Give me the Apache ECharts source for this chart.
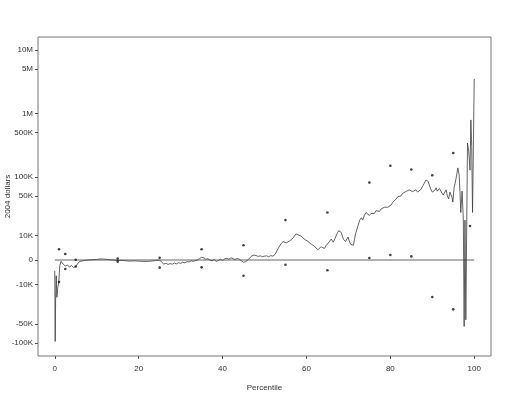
<!DOCTYPE html>
<html>
<head>
<meta charset="utf-8">
<script src="https://cdn.jsdelivr.net/npm/echarts@6/dist/echarts.min.js"></script>
<style>html,body{margin:0;padding:0;background:#fff}#c{width:509px;height:402px}</style>
</head>
<body>
<div id="c"></div>
<script>
// Percentile positions of the traced line
const linePct = [0.0,0.1,0.2,0.35,0.5,0.7,0.95,1.2,1.5,2.0,2.5,3.0,3.5,4.0,4.5,5.0,5.5,6.0,7.0,8.0,9.0,10.0,11.0,12.0,13.0,14.0,15.0,16.0,17.0,18.0,19.0,20.0,21.0,22.0,23.0,24.0,25.0,25.5,26.0,26.5,27.0,27.5,28.0,28.5,29.0,29.5,30.0,30.5,31.0,31.5,32.0,32.5,33.0,33.5,34.0,34.5,35.0,35.5,36.0,36.5,37.0,37.5,38.0,38.5,39.0,39.5,40.0,40.5,41.0,41.5,42.0,42.5,43.0,43.5,44.0,44.5,45.0,45.5,46.0,46.5,47.0,47.5,48.0,48.5,49.0,49.5,50.0,50.5,51.0,51.5,52.0,52.5,53.0,53.5,54.0,54.4,54.8,55.2,55.6,56.0,56.4,56.8,57.1,57.5,58.0,58.3,58.7,59.1,59.5,59.9,60.3,60.7,61.1,61.5,61.9,62.3,62.7,63.1,63.5,63.9,64.3,64.7,65.1,65.5,65.9,66.4,66.8,67.1,67.4,67.7,68.0,68.3,68.8,69.3,69.9,70.3,70.6,71.2,71.7,72.2,72.7,73.1,73.4,73.8,74.2,74.6,75.0,75.4,75.8,76.2,76.6,77.0,77.4,77.8,78.2,78.6,79.0,79.4,79.8,80.2,80.6,81.0,81.4,81.8,82.1,82.5,82.9,83.3,83.7,84.1,84.5,84.9,85.3,85.7,86.1,86.5,86.9,87.3,87.7,88.1,88.5,89.0,89.3,89.7,90.0,90.3,90.6,90.9,91.2,91.4,91.7,92.0,92.3,92.6,93.0,93.3,93.6,93.9,94.2,94.5,94.7,94.9,95.2,95.6,96.1,96.4,96.6,96.8,97.1,97.4,97.6,97.8,98.0,98.4,98.7,99.0,99.2,99.4,99.6,100.0];
// Line values, thousands of 2004 dollars
const lineValK = [-4,-95,-20,-6,-18,-12,-9,-2,-0.5,-1.5,-2.2,-1.8,-2.6,-2.0,-2.8,-2.3,-1.2,-0.5,-0.2,0,0.1,0.2,0.4,0.3,0.1,0,-0.2,-0.1,-0.3,-0.4,-0.3,-0.4,-0.5,-0.5,-0.4,-0.2,0,-0.8,-1.5,-1.2,-1.6,-1.3,-1.5,-1.1,-1.4,-1.0,-1.2,-0.8,-1.0,-0.6,-0.7,-0.3,-0.5,-0.2,0,0.5,1.0,0.8,0.3,0.5,0,-0.3,0.2,-0.5,-0.2,0.3,-0.2,0.4,0.6,0.3,0.8,0.5,0.2,0.6,0.3,-0.3,-0.8,-0.6,0,0.8,1.5,1.8,1.6,1.3,1.5,1.2,1.4,1.5,1.2,1.6,1.4,2.0,3.5,5.0,6.3,7.2,7.6,6.6,6.9,7.5,7.9,8.8,9.3,10.9,10.4,10.3,9.8,9.0,8.3,7.6,7.3,6.9,6.1,5.6,5.2,4.6,3.8,3.1,5.0,4.5,4.3,5.5,5.9,7.2,8.3,6.9,8.5,9.3,11.5,12.7,12.2,11.7,8.3,7.2,9.3,7.0,5.9,5.6,10.9,15,20,22,20,24,27,25,24,26,27,26,29,29,28,31,31,33,35,33,31,36,40,43,45,49,52,50,55,57,59,58,63,60,59,62,63,58,57,64,72,80,90,86,75,63,58,55,62,68,60,59,66,63,56,52,58,63,50,45,58,55,48,40,68,90,140,110,60,27,60,21,-55,20,-43,345,250,129,795,302,27,3500];
// Estimate points (bounds) at selected percentiles
const dotPct  = [1,1,2.5,2.5,5,5,15,15,25,25,35,35,45,45,55,55,65,65,75,75,80,80,85,85,90,90,95,95,99];
const dotValK = [4,-8.8,2.2,-3.3,0.1,-2.4,0.5,-0.6,0.8,-2.8,4,-2.7,5.6,-6,20,-1.7,27,-3.8,82,0.7,151,1.8,132,1.3,107,-17.8,240,-29,15.7];
// Axis ticks
const xTicks = [0,20,40,60,80,100];
const yTickVals = [-100000,-50000,-10000,0,10000,50000,100000,500000,1000000,5000000,10000000];
const yTickLabels = ['-100K','-50K','-10K','0','10K','50K','100K','500K','1M','5M','10M'];

const T = v => Math.asinh(v / 10000);
const yTickPos = yTickVals.map(T);

const lineData = linePct.map((p, i) => [p, T(lineValK[i] * 1000)]);
const dotData = dotPct.map((p, i) => [p, T(dotValK[i] * 1000)]);
const zeroData = [[0, 0], [100, 0]];

const font = 'Liberation Sans, Arial, sans-serif';
const chart = echarts.init(document.getElementById('c'), null, {renderer: 'canvas'});
chart.setOption({
  animation: false,
  backgroundColor: '#fff',
  grid: {left: 38, right: 18, top: 37, bottom: 46, show: true, borderColor: '#777', borderWidth: 1,
         backgroundColor: 'transparent', containLabel: false, outerBoundsMode: 'none'},
  xAxis: {
    type: 'value', min: -4, max: 104,
    name: 'Percentile', nameLocation: 'middle', nameGap: 28, nameMoveOverlap: false,
    nameTextStyle: {fontFamily: font, fontSize: 8, color: '#333'},
    axisLine: {show: false, onZero: false},
    splitLine: {show: false},
    axisTick: {show: true, length: 3, lineStyle: {color: '#555'}, customValues: xTicks},
    axisLabel: {fontFamily: font, fontSize: 8, color: '#333', margin: 9, customValues: xTicks}
  },
  yAxis: {
    type: 'value', min: -3.474, max: 8.07,
    name: '2004 dollars', nameLocation: 'middle', nameGap: 26, nameMoveOverlap: false,
    nameTextStyle: {fontFamily: font, fontSize: 8, color: '#333'},
    axisLine: {show: false, onZero: false},
    splitLine: {show: false},
    axisTick: {show: true, length: 3, lineStyle: {color: '#555'}, customValues: yTickPos},
    axisLabel: {
      fontFamily: font, fontSize: 8, color: '#333', margin: 5, customValues: yTickPos,
      formatter: function (val) {
        let best = 0, bd = Infinity;
        yTickPos.forEach((p, i) => { const d = Math.abs(p - val); if (d < bd) { bd = d; best = i; } });
        return yTickLabels[best];
      }
    }
  },
  series: [
    {type: 'line', data: zeroData, showSymbol: false, silent: true,
     lineStyle: {color: '#666', width: 1}, z: 1},
    {type: 'line', data: lineData, showSymbol: false, silent: true,
     lineStyle: {color: '#3c3c3c', width: 0.8}, z: 2},
    {type: 'scatter', data: dotData, symbol: 'circle', symbolSize: 2.6, silent: true,
     itemStyle: {color: '#111'}, z: 3}
  ]
});
</script>
</body>
</html>
